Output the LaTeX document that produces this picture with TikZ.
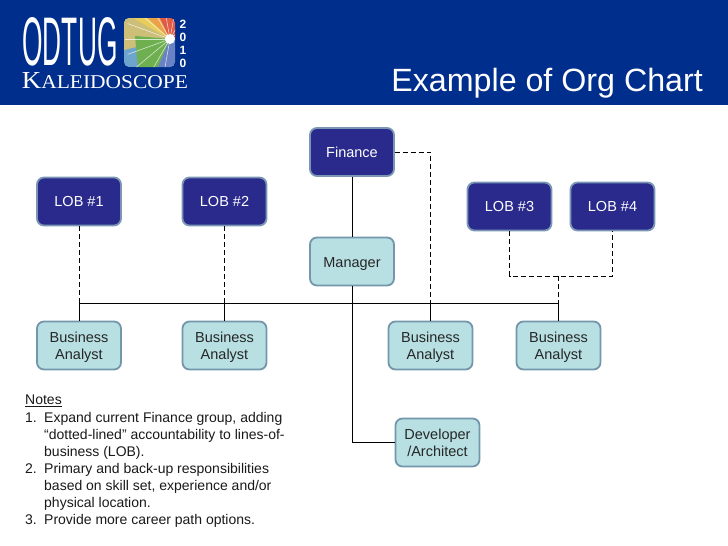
\documentclass[tikz,border=0pt]{standalone}
\usepackage{fontspec}
\setmainfont{Liberation Sans}
\newfontfamily\serifk{Liberation Serif}
\definecolor{hdr}{RGB}{0,46,140}
\definecolor{navybox}{RGB}{42,42,140}
\definecolor{tealbox}{RGB}{184,224,226}
\definecolor{edgeblue}{RGB}{122,150,180}
\definecolor{edgeteal}{RGB}{115,150,172}
\definecolor{kyellow}{RGB}{232,205,90}
\definecolor{korange}{RGB}{238,160,70}
\definecolor{kred}{RGB}{225,90,70}
\definecolor{kgreen}{RGB}{110,175,80}
\definecolor{kblue}{RGB}{110,165,205}
\definecolor{klav}{RGB}{105,130,195}
\definecolor{ktan}{RGB}{205,190,120}
\newcommand{\numline}[2]{\makebox[19pt][l]{#1}#2}
\newcommand{\lowtxt}{\rule{0pt}{14.5pt}}
\tikzset{
  x=1pt,y=-1pt,
  orgbox/.style={rounded corners=7pt,line width=1.8pt,minimum width=84pt,minimum height=48pt,align=center,font=\fontsize{14.5}{17}\selectfont,inner sep=0pt},
  darkbox/.style={orgbox,draw=edgeblue,fill=navybox,text=white},
  lightbox/.style={orgbox,draw=edgeteal,fill=tealbox,text=black!85},
  solidline/.style={draw=black,line width=1pt},
  dashline/.style={draw=black,line width=1pt,dash pattern=on 5pt off 3pt},
  notetext/.style={anchor=north west,inner sep=0pt,text=black!90,font=\fontsize{14}{17}\selectfont,align=left}
}
\begin{document}
\begin{tikzpicture}
\useasboundingbox (0,0) rectangle (728,546);
\fill[hdr] (0,0) rectangle (728,105);
% logo
\node[text=white,inner sep=0pt] (odtug) at (70,42) {\resizebox{95pt}{48pt}{ODTUG}};
\begin{scope}
\path[clip,rounded corners=5pt] (124,18) rectangle (175,67);
\fill[kblue] (124,18) rectangle (175,67);
\fill[ktan] (170,39) -- (124,50) -- (124,18) -- (140,18) -- cycle;
\fill[kyellow] (170,39) -- (133,18) -- (148,18) -- cycle;
\fill[korange] (170,39) -- (148,18) -- (160,18) -- cycle;
\fill[kred] (170,39) -- (160,18) -- (175,18) -- (175,39) -- cycle;
\fill[kgreen] (170,39) -- (135,36) -- (138,67) -- (158,67) -- cycle;
\fill[klav] (170,39) -- (158,67) -- (175,67) -- (175,39) -- cycle;
\foreach \a in {100,120,...,340}{\draw[white,opacity=0.7,line width=0.6pt] (170,39) -- ++(\a:45);}
\fill[white] (170,39) circle (5);
\end{scope}
\foreach \d/\y in {2/24,0/37,1/50,0/63}{\node[text=white,font=\bfseries\fontsize{12}{12}\selectfont,inner sep=0pt] (yr\y) at (183,\y) {\d};}
\node[text=white,inner sep=0pt] (kal) at (105,80.5) {\resizebox{166pt}{16pt}{\serifk K\fontsize{8}{8}\selectfont ALEIDOSCOPE}};
\node[anchor=east,text=white,inner sep=0pt,font=\fontsize{32.2}{36}\selectfont] (title) at (703,83) {Example of Org Chart};
% nodes
\node[darkbox] (fin) at (352,152) {Finance};
\node[darkbox] (l1) at (79,201.5) {LOB \#1};
\node[darkbox] (l2) at (224.5,201.5) {LOB \#2};
\node[darkbox] (l3) at (509.5,206.5) {LOB \#3};
\node[darkbox] (l4) at (612.5,206.5) {LOB \#4};
\node[lightbox] (mgr) at (352,261.5) {\lowtxt Manager};
\node[lightbox] (b1) at (79,345.5) {\lowtxt Business\\Analyst};
\node[lightbox] (b2) at (224.5,345.5) {\lowtxt Business\\Analyst};
\node[lightbox] (b3) at (430.5,345.5) {\lowtxt Business\\Analyst};
\node[lightbox] (b4) at (558.5,345.5) {\lowtxt Business\\Analyst};
\node[lightbox] (dev) at (437.5,442.5) {Developer\\/Architect};
\coordinate (busL) at (79,303);
\coordinate (busR) at (558.5,303);
\coordinate (busM) at (352,303);
\coordinate (lobj) at (558.5,276);
% solid connectors
\draw[solidline] (fin) -- (mgr);
\draw[solidline] (mgr) -- (busM);
\draw[solidline] (b1.north) -- (busL) -- (busR) -- (b4.north);
\draw[solidline] (b2.north) -- (b2.north |- busL);
\draw[solidline] (b3.north) -- (b3.north |- busL);
\draw[solidline] (busM) |- (dev.west);
% dashed connectors
\draw[dashline] (l1.south) -- (l1.south |- busL);
\draw[dashline] (l2.south) -- (l2.south |- busL);
\draw[dashline] (fin.east) -| (b3.north |- busL);
\draw[dashline] (l3.south) |- (lobj) -| (l4.south);
\draw[dashline] (lobj) -- (busR);
% notes
\node[notetext] (notes) at (25,395) {\underline{Notes}};
\node[notetext] (notes1) at (25,412) {\numline{1.}{Expand current Finance group, adding}\\
\numline{}{“dotted-lined” accountability to lines-of-}\\
\numline{}{business (LOB).}\\
\numline{2.}{Primary and back-up responsibilities}\\
\numline{}{based on skill set, experience and/or}\\
\numline{}{physical location.}\\
\numline{3.}{Provide more career path options.}};
\end{tikzpicture}
\end{document}
